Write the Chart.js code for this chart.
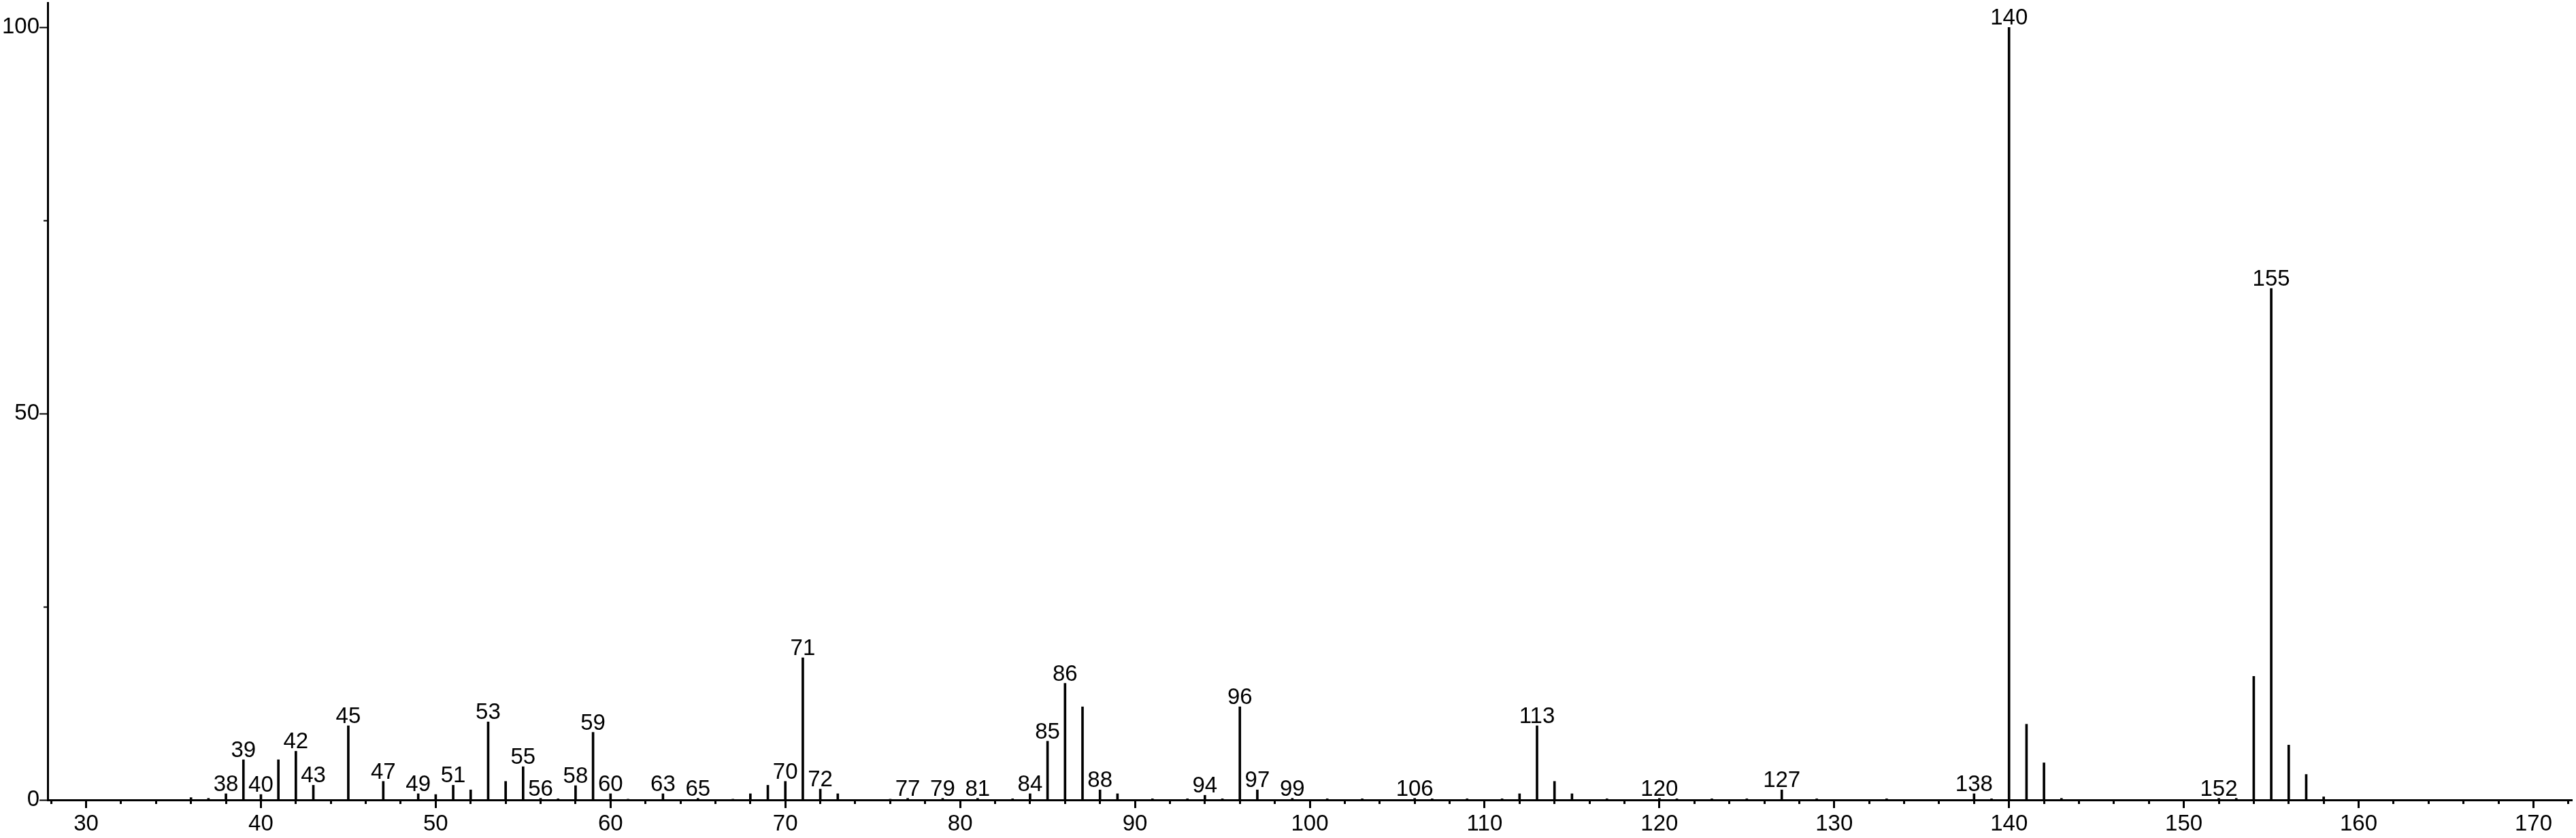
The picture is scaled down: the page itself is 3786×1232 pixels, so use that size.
<!DOCTYPE html>
<html>
<head>
<meta charset="utf-8">
<script src="https://cdn.jsdelivr.net/npm/chart.js@4.4.1/dist/chart.umd.min.js"></script>
<style>
    html, body { margin: 0; padding: 0; background: #fff; }
    .chart-box { position: relative; width: 3786px; height: 1232px; }
</style>
</head>
<body>
<div class="chart-box"><canvas id="spectrum"></canvas></div>
<script>
// --- datos del espectro (m/z e intensidad relativa) ---
const mzValues = [36, 37, 38, 39, 40, 41, 42, 43, 45, 47, 49, 50, 51, 52, 53, 54, 55, 56, 57, 58, 59, 60, 61, 63, 65, 67, 68, 69, 70, 71, 72, 73,
    76, 77, 79, 81, 83, 84, 85, 86, 87, 88, 89, 91, 93, 94, 95, 96, 97, 99, 101, 103, 106, 107, 109, 111, 112, 113, 114, 115, 117,
    120, 121, 123, 125, 127, 129, 133, 138, 139, 140, 141, 142, 143, 152, 153, 154, 155, 156, 157, 158];
const intensities = [0.3, 0.2, 0.8, 5.2, 0.7, 5.2, 6.3, 1.9, 9.6, 2.4, 0.8, 0.7, 1.9, 1.3, 10.1, 2.4, 4.3, 0.2, 0.15, 1.85, 8.75, 0.8, 0.1, 0.8, 0.2, 0.1, 0.8, 1.9, 2.4, 18.4, 1.4, 0.8,
    0.1, 0.2, 0.2, 0.2, 0.15, 0.8, 7.6, 15.1, 12.05, 1.3, 0.8, 0.15, 0.15, 0.6, 0.15, 12.05, 1.3, 0.2, 0.15, 0.15, 0.2, 0.15, 0.15, 0.15, 0.8, 9.6, 2.4, 0.8, 0.15,
    0.2, 0.15, 0.15, 0.15, 1.3, 0.15, 0.15, 0.8, 0.15, 100, 9.8, 4.8, 0.2, 0.2, 0.2, 16, 66.2, 7.1, 3.3, 0.4];
// picos que llevan su m/z escrito encima
const labeledPeaks = [38, 39, 40, 42, 43, 45, 47, 49, 51, 53, 55, 56, 58, 59, 60, 63, 65, 70, 71, 72, 77, 79, 81, 84, 85, 86, 88,
    94, 96, 97, 99, 106, 113, 120, 127, 138, 140, 152, 155];

// --- ejes ---
const xMin = 27.8;
const xMax = 172.2;
const yMin = 0;
const yMax = 103.2;
const xMajorTicks = [30, 40, 50, 60, 70, 80, 90, 100, 110, 120, 130, 140, 150, 160, 170];
const xMinorTicks = [28, 32, 34, 36, 38, 42, 44, 46, 48, 52, 54, 56, 58, 62, 64, 66, 68, 72, 74, 76, 78, 82, 84, 86, 88,
    92, 94, 96, 98, 102, 104, 106, 108, 112, 114, 116, 118, 122, 124, 126, 128, 132, 134, 136, 138, 142, 144, 146, 148,
    152, 154, 156, 158, 162, 164, 166, 168, 172];
const yMajorTicks = [0, 50, 100];
const yMinorTicks = [25, 75];

const negro = '#000000';
const fuente = '"Liberation Sans", Arial, sans-serif';
const tamFuente = 33;

// etiquetas de m/z sobre los picos, usando la posición que calcula Chart.js
const peakLabels = {
    id: 'peakLabels',
    afterDatasetsDraw(chart) {
        const ctx = chart.ctx;
        const meta = chart.getDatasetMeta(0);
        ctx.save();
        ctx.fillStyle = negro;
        ctx.font = `${tamFuente}px ${fuente}`;
        ctx.textAlign = 'center';
        ctx.textBaseline = 'alphabetic';
        labeledPeaks.forEach(mz => {
            const i = mzValues.indexOf(mz);
            if (i < 0) return;
            const bar = meta.data[i];
            ctx.fillText(String(mz), bar.x, Math.min(bar.y, bar.base - 2) - 4);
        });
        ctx.restore();
    }
};

const ctx = document.getElementById('spectrum').getContext('2d');

new Chart(ctx, {
    type: 'bar',
    data: {
        datasets: [{
            data: mzValues.map((mz, i) => ({ x: mz, y: intensities[i] })),
            backgroundColor: negro,
            borderWidth: 0,
            barThickness: 3,
            xAxisID: 'x',
            yAxisID: 'y'
        }]
    },
    options: {
        responsive: true,
        maintainAspectRatio: false,
        animation: false,
        layout: { padding: { top: 4, right: 6, left: 0, bottom: 0 } },
        plugins: {
            legend: { display: false },
            tooltip: { enabled: false }
        },
        scales: {
            x: {
                type: 'linear',
                position: 'bottom',
                offset: false,
                min: xMin,
                max: xMax,
                afterBuildTicks: s => { s.ticks = xMajorTicks.map(v => ({ value: v })); },
                afterFit: s => { s.height = 56; },
                border: { color: negro, width: 3 },
                grid: { offset: false, drawOnChartArea: false, tickLength: 12, tickWidth: 3, tickColor: negro },
                ticks: {
                    color: negro,
                    font: { family: fuente, size: tamFuente },
                    padding: 4,
                    maxRotation: 0,
                    autoSkip: false
                }
            },
            // marcas pequeñas cada 2 unidades, pegadas a la línea y = 0
            xMinor: {
                type: 'linear',
                axis: 'x',
                position: { y: 0 },
                offset: false,
                min: xMin,
                max: xMax,
                afterBuildTicks: s => { s.ticks = xMinorTicks.map(v => ({ value: v })); },
                border: { display: false },
                grid: { offset: false, drawOnChartArea: false, tickLength: 6, tickWidth: 3, tickColor: negro },
                ticks: { display: false }
            },
            y: {
                type: 'linear',
                position: 'left',
                min: yMin,
                max: yMax,
                afterBuildTicks: s => { s.ticks = yMajorTicks.map(v => ({ value: v })); },
                afterFit: s => {
                    s.width = 70;
                    // el "100" no está en el borde, así que no hace falta reservar medio rótulo arriba
                    s.paddingTop = 0;
                    s.paddingBottom = 0;
                },
                border: { color: negro, width: 3 },
                grid: { drawOnChartArea: false, tickLength: 12, tickWidth: 2, tickColor: negro },
                ticks: {
                    color: negro,
                    font: { family: fuente, size: tamFuente },
                    padding: 0
                }
            },
            yMinor: {
                type: 'linear',
                axis: 'y',
                position: { x: xMin },
                min: yMin,
                max: yMax,
                afterBuildTicks: s => { s.ticks = yMinorTicks.map(v => ({ value: v })); },
                border: { display: false },
                grid: { drawOnChartArea: false, tickLength: 6, tickWidth: 2, tickColor: negro },
                ticks: { display: false }
            }
        }
    },
    plugins: [peakLabels]
});
</script>
</body>
</html>
